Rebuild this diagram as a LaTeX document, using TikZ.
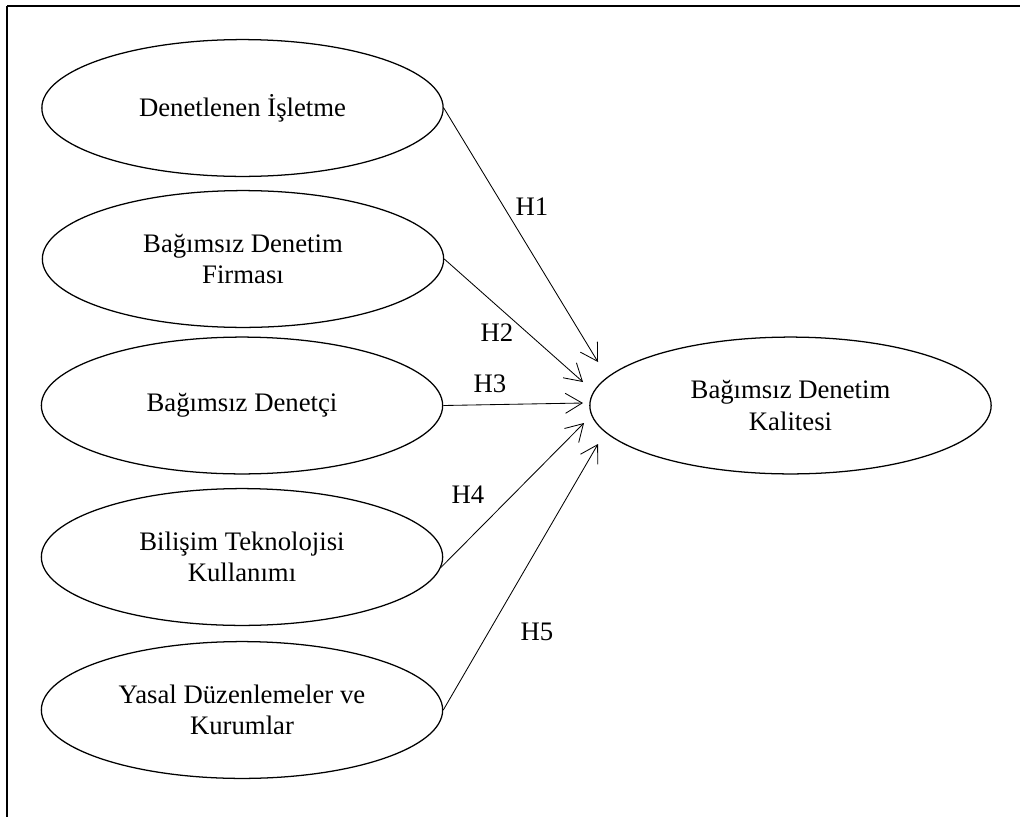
\documentclass[tikz,border=0pt]{standalone}
\usepackage{fontspec}
\setmainfont{Liberation Serif}
\usetikzlibrary{arrows.meta,shapes,positioning}
\tikzstyle{factor}=[ellipse,draw,line width=0.9pt,align=center,minimum width=10.03cm,minimum height=3.42cm,inner sep=0pt,font=\fontsize{19}{22.5}\selectfont]
\tikzstyle{hyp}=[draw,line width=0.6pt,-{Straight Barb[length=0.42cm,width=0.5cm]}]
\tikzstyle{hlab}=[inner sep=0pt,font=\fontsize{19}{22.5}\selectfont]

\begin{document}
\begin{tikzpicture}[x=0.025cm,y=-0.025cm]
	\useasboundingbox (0,0) rectangle (1020,817);

	\draw[line width=1.5pt] (1020,6) -- (7,6);
	\draw[line width=0.9pt] (7,6) -- (7,817);

% % % factors
	\node[factor] (de) at (242.5,108) {Denetlenen İşletme};
	\node[factor] (bf) at (243,259) {Bağımsız Denetim\\Firması};
	\node[factor] (bd) at (242,405.5) {Bağımsız Denetçi};
	\node[factor] (bt) at (242,557) {Bilişim Teknolojisi\\Kullanımı};
	\node[factor] (yd) at (242,710) {Yasal Düzenlemeler ve\\Kurumlar};

	\node[factor] (bk) at (790.5,405.5) {Bağımsız Denetim\\Kalitesi};

% % % hypotheses
	\coordinate (e1) at (598,362);
	\coordinate (e2) at (583,382);
	\coordinate (e3) at (583,403);
	\coordinate (e4) at (584,423);
	\coordinate (e5) at (598,444);

	\path[hyp] (de.east) -- (e1);
	\path[hyp] (bf.east) -- (e2);
	\path[hyp] (bd.east) -- (e3);
	\path[hyp] (bt.-3) -- (e4);
	\path[hyp] (yd.east) -- (e5);

	\node[hlab] (h1) at (532,207) {H1};
	\node[hlab] (h2) at (497,333) {H2};
	\node[hlab] (h3) at (490,384) {H3};
	\node[hlab] (h4) at (468,495) {H4};
	\node[hlab] (h5) at (537,632) {H5};

\end{tikzpicture}
\end{document}
